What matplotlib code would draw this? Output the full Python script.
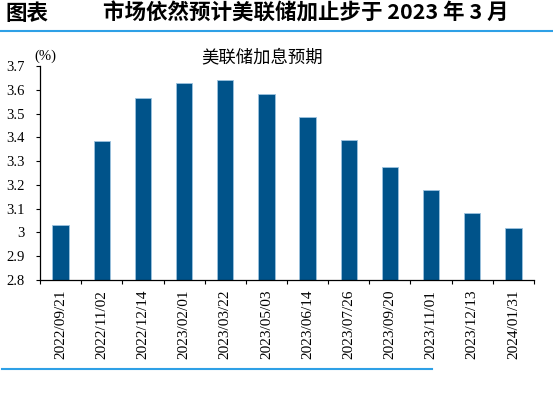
import matplotlib
matplotlib.use("Agg")
import matplotlib.pyplot as plt
from matplotlib.lines import Line2D

# data
dates = [
	'2022/09/21', '2022/11/02', '2022/12/14', '2023/02/01',
	'2023/03/22', '2023/05/03', '2023/06/14', '2023/07/26',
	'2023/09/20', '2023/11/01', '2023/12/13', '2024/01/31',
]
rate_expect = [3.03, 3.385, 3.564, 3.627, 3.641, 3.582, 3.484, 3.387, 3.277, 3.180, 3.083, 3.017]
y_ticks = [2.8, 2.9, 3.0, 3.1, 3.2, 3.3, 3.4, 3.5, 3.6, 3.7]
y_labels = ['2.8', '2.9', '3', '3.1', '3.2', '3.3', '3.4', '3.5', '3.6', '3.7']

bar_color = '#00538A'
line_color = '#2EA0E6'
cjk = ['Noto Sans CJK SC', 'DejaVu Sans']
serif = 'Liberation Serif'

W, H = 553, 399
fig = plt.figure(figsize=(W/100, H/100), dpi=100)
ax = fig.add_axes([40/W, 1-280/H, (534-40)/W, (280-66)/H])

x = list(range(len(dates)))
ax.bar(x, rate_expect, width=0.4, bottom=0, color=bar_color, edgecolor='#9CC3DF', linewidth=0.6)

ax.set_xlim(-0.5, len(dates)-0.5)
ax.set_ylim(2.8, 3.7)
ax.set_yticks(y_ticks)
ax.set_yticklabels(y_labels, fontsize=10.5, family=serif)
ax.set_xticks(x)
ax.set_xticklabels(dates, rotation=90, fontsize=11, family=serif)
ax.set_xticks([i - 0.5 for i in range(len(dates)+1)], minor=True)
ax.tick_params(axis='x', which='major', length=0, pad=7)
ax.tick_params(axis='x', which='minor', length=3, width=0.8, direction='out')
ax.tick_params(axis='y', length=3, width=0.8, direction='out', pad=8)
for s in ['top', 'right']:
	ax.spines[s].set_visible(False)
for s in ['left', 'bottom']:
	ax.spines[s].set_linewidth(0.9)

# heading and rules
fig.text(5/W, 1-13/H, '图表', fontsize=15.5, fontweight='bold', family=cjk, va='center', ha='left')
fig.text(103/W, 1-13/H, '市场依然预计美联储加止步于 2023 年 3 月', fontsize=15.5, fontweight='bold',
	family=cjk, va='center', ha='left')
fig.add_artist(Line2D([0, 1], [1-31/H, 1-31/H], color=line_color, lw=1.5))
fig.add_artist(Line2D([2/W, 432/W], [1-369/H, 1-369/H], color=line_color, lw=1.5))

fig.text(262/W, 1-57/H, '美联储加息预期', fontsize=12.5, fontweight='light', family=cjk, va='center', ha='center')
fig.text(34/W, 1-56/H, '(%)', fontsize=10.5, family=serif, va='center', ha='left')

fig.savefig('out.png', dpi=100)
